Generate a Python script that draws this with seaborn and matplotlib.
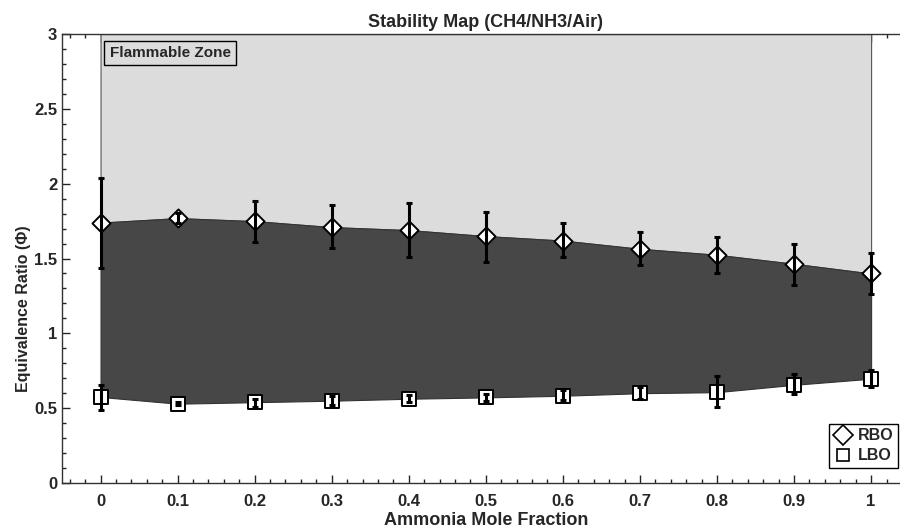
import seaborn as sns
import matplotlib.pyplot as plt
import pandas as pd
from matplotlib.lines import Line2D

# data
nh3 = [0.0, 0.1, 0.2, 0.3, 0.4, 0.5, 0.6, 0.7, 0.8, 0.9, 1.0]
rbo = [1.74, 1.77, 1.75, 1.71, 1.69, 1.65, 1.62, 1.565, 1.525, 1.465, 1.40]
rbo_hi = [2.04, 1.805, 1.885, 1.86, 1.87, 1.81, 1.74, 1.675, 1.645, 1.60, 1.54]
rbo_lo = [1.44, 1.735, 1.61, 1.57, 1.51, 1.48, 1.51, 1.455, 1.405, 1.32, 1.26]
lbo = [0.575, 0.53, 0.54, 0.55, 0.563, 0.572, 0.583, 0.60, 0.607, 0.656, 0.697]
lbo_hi = [0.656, 0.54, 0.563, 0.58, 0.587, 0.594, 0.623, 0.641, 0.712, 0.73, 0.753]
lbo_lo = [0.487, 0.52, 0.511, 0.52, 0.538, 0.55, 0.552, 0.561, 0.507, 0.597, 0.641]

df = pd.DataFrame({"x": nh3, "RBO": rbo, "LBO": lbo})

sns.set_style("ticks")
plt.rcParams['font.family'] = ['Liberation Sans', 'DejaVu Sans']
plt.rcParams['font.weight'] = 'bold'

fig = plt.figure(figsize=(9, 5.3), dpi=100)
ax = fig.add_axes([0.0689, 0.0887, 0.9418, 0.847])

# zones
ax.fill_between(nh3, rbo, 3, color="#dcdcdc", edgecolor="#555555", lw=0.8, zorder=1)
ax.fill_between(nh3, lbo, rbo, color="#474747", edgecolor="#333333", lw=0.8, zorder=1)

# markers
sns.scatterplot(data=df, x="x", y="RBO", marker="D", s=85, facecolor="white",
                edgecolor="black", linewidth=1.4, ax=ax, zorder=3)
sns.scatterplot(data=df, x="x", y="LBO", marker="s", s=88, facecolor="white",
                edgecolor="black", linewidth=1.4, ax=ax, zorder=3)

# error bars on top of markers
rbo_err = [[r - l for r, l in zip(rbo, rbo_lo)], [h - r for r, h in zip(rbo, rbo_hi)]]
lbo_err = [[r - l for r, l in zip(lbo, lbo_lo)], [h - r for r, h in zip(lbo, lbo_hi)]]
ax.errorbar(nh3, rbo, yerr=rbo_err, fmt="none", ecolor="black", elinewidth=2.2,
            capsize=2.5, capthick=2.2, zorder=4)
ax.errorbar(nh3, lbo, yerr=lbo_err, fmt="none", ecolor="black", elinewidth=2.2,
            capsize=2.5, capthick=2.2, zorder=4)

ax.set_xlim(-0.05, 1.05)
ax.set_ylim(0, 3)
ax.set_xticks([0, 0.1, 0.2, 0.3, 0.4, 0.5, 0.6, 0.7, 0.8, 0.9, 1.0])
ax.set_xticklabels(["0", "0.1", "0.2", "0.3", "0.4", "0.5", "0.6", "0.7", "0.8", "0.9", "1"])
ax.set_yticks([0, 0.5, 1, 1.5, 2, 2.5, 3])
ax.set_yticklabels(["0", "0.5", "1", "1.5", "2", "2.5", "3"])
ax.minorticks_on()
ax.xaxis.set_minor_locator(plt.MultipleLocator(0.02))
ax.yaxis.set_minor_locator(plt.MultipleLocator(0.1))
ax.tick_params(which="both", direction="in", top=True, right=True, labelsize=12, width=1)
ax.tick_params(which="major", length=6)
ax.tick_params(axis="x", pad=8)
ax.tick_params(which="minor", length=3)
for s in ax.spines.values():
    s.set_color("#333333")
    s.set_linewidth(1)

ax.set_xlabel("Ammonia Mole Fraction", fontsize=13, fontweight="bold", labelpad=2)
ax.set_ylabel("Equivalence Ratio (Φ)", fontsize=11.5, fontweight="bold")
ax.yaxis.set_label_coords(-0.036, 0.388)
ax.set_title("Stability Map (CH4/NH3/Air)", fontsize=13, fontweight="bold", pad=5)

ax.text(0.012, 2.873, "Flammable Zone", fontsize=11, fontweight="bold", ha="left", va="center",
        zorder=5,
        bbox=dict(boxstyle="square,pad=0.35", facecolor="#dcdcdc", edgecolor="black", lw=1))

handles = [
    Line2D([], [], marker="D", ls="none", mfc="white", mec="black", ms=10, mew=1.2, label="RBO"),
    Line2D([], [], marker="s", ls="none", mfc="white", mec="black", ms=9, mew=1.2, label="LBO"),
]
leg = fig.legend(handles=handles, loc="lower right", bbox_to_anchor=(898 / 900, 62 / 530),
                 bbox_transform=fig.transFigure, frameon=True, fancybox=False,
                 edgecolor="black", framealpha=1, handletextpad=0.3, borderpad=0.3,
                 labelspacing=0.3, handlelength=1.2, borderaxespad=0,
                 prop={"weight": "bold", "size": 11.5})
leg.get_frame().set_linewidth(1)

fig.savefig("out.png", dpi=100)
